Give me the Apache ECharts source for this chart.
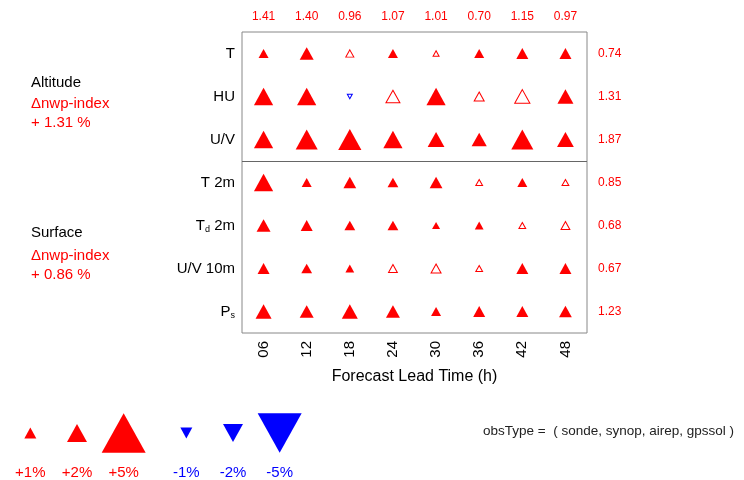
<!DOCTYPE html>
<html>
<head>
<meta charset="utf-8">
<script src="https://cdn.jsdelivr.net/npm/echarts@6/dist/echarts.min.js"></script>
<style>html,body{margin:0;padding:0;background:#fff}#c{width:744px;height:480px}</style>
</head>
<body>
<div id="c"></div>
<script>
// ---- data ----
const hours = ['06', '12', '18', '24', '30', '36', '42', '48'];
const params = ['T', 'HU', 'U/V', 'T 2m', 'Td 2m', 'U/V 10m', 'Ps'];
const altitudeParamCount = 3; // T, HU, U/V are altitude parameters; the rest are surface
const columnIndex = ['1.41', '1.40', '0.96', '1.07', '1.01', '0.70', '1.15', '0.97'];
const rowIndex = ['0.74', '1.31', '1.87', '0.85', '0.68', '0.67', '1.23'];
// relative change (%) per parameter (row) and lead time (column)
const changeT    = [0.75, 1.25, 0.50, 0.75, 0.25, 0.75, 1.00, 1.00];
const changeHU   = [1.90, 1.90, -0.12, 1.25, 1.90, 0.75, 1.40, 1.50];
const changeUV   = [1.90, 2.25, 2.40, 1.90, 1.60, 1.40, 2.25, 1.60];
const changeT2m  = [1.90, 0.75, 1.10, 0.85, 1.10, 0.35, 0.75, 0.35];
const changeTd2m = [1.25, 1.00, 0.85, 0.85, 0.50, 0.60, 0.35, 0.60];
const changeUV10 = [1.00, 0.85, 0.60, 0.60, 0.75, 0.35, 1.00, 1.00];
const changePs   = [1.50, 1.25, 1.50, 1.25, 0.75, 1.00, 1.00, 1.10];
// 1 = significant (filled), 0 = not significant (open)
const sigT    = [1, 1, 0, 1, 0, 1, 1, 1];
const sigHU   = [1, 1, 0, 0, 1, 0, 0, 1];
const sigUV   = [1, 1, 1, 1, 1, 1, 1, 1];
const sigT2m  = [1, 1, 1, 1, 1, 0, 1, 0];
const sigTd2m = [1, 1, 1, 1, 1, 1, 0, 0];
const sigUV10 = [1, 1, 1, 0, 0, 0, 1, 1];
const sigPs   = [1, 1, 1, 1, 1, 1, 1, 1];
const legendPos = [1, 2, 5];
const legendNeg = [-1, -2, -5];
const altitudeIndex = '+ 1.31 %';
const surfaceIndex = '+ 0.86 %';
const obsTypes = ['sonde', 'synop', 'airep', 'gpssol'];

// ---- build ----
const changes = [changeT, changeHU, changeUV, changeT2m, changeTd2m, changeUV10, changePs];
const sigs = [sigT, sigHU, sigUV, sigT2m, sigTd2m, sigUV10, sigPs];
const RED = '#ff0000', BLUE = '#0000ff';
const FONT = '"Liberation Sans", Arial, Helvetica, sans-serif';
function symSize(v) { const w = 4 + 8 * Math.abs(v); return [w, w * 0.9]; }
function item(x, y, v, filled) {
  const col = v >= 0 ? RED : BLUE;
  return {
    value: [x, y, v],
    symbolRotate: v < 0 ? 180 : 0,
    itemStyle: filled ? { color: col, borderWidth: 0, opacity: 1 }
                      : { color: '#fff', borderColor: col, borderWidth: 1, opacity: 1 }
  };
}
const mainData = [];
changes.forEach((row, j) => row.forEach((v, i) => mainData.push(item(i, j, v, sigs[j][i] === 1))));
const labelMap = {
  'Td 2m': '{n|T}{s|d}{n| 2m}',
  'Ps': '{n|P}{s|s}'
};
const fmtPct = v => (v > 0 ? '+' : '') + v + '%';

const option = {
  animation: false,
  textStyle: { fontFamily: FONT },
  grid: [
    { left: 242, top: 32, width: 345, height: 301, show: true, borderColor: '#888', borderWidth: 1 },
    { left: 7, top: 414, width: 140, height: 40 },
    { left: 163, top: 414, width: 140, height: 40 }
  ],
  xAxis: [
    { gridIndex: 0, type: 'category', data: hours, position: 'bottom',
      axisLine: { show: false }, axisTick: { show: false }, splitLine: { show: false },
      axisLabel: { rotate: 90, margin: 8, fontSize: 15, color: '#000', fontFamily: FONT },
      name: 'Forecast Lead Time (h)', nameLocation: 'middle', nameGap: 36,
      nameTextStyle: { fontSize: 16, color: '#000', fontFamily: FONT } },
    { gridIndex: 0, type: 'category', data: columnIndex, position: 'top',
      axisLine: { show: false }, axisTick: { show: false },
      axisLabel: { margin: 9, fontSize: 12, color: RED, fontFamily: FONT } },
    { gridIndex: 1, type: 'category', data: legendPos.map(fmtPct),
      axisLine: { show: false }, axisTick: { show: false },
      axisLabel: { margin: 13, fontSize: 15, color: RED, fontFamily: FONT } },
    { gridIndex: 2, type: 'category', data: legendNeg.map(fmtPct),
      axisLine: { show: false }, axisTick: { show: false },
      axisLabel: { margin: 13, fontSize: 15, color: BLUE, fontFamily: FONT } }
  ],
  yAxis: [
    { gridIndex: 0, type: 'category', data: params, inverse: true,
      axisLine: { show: false }, axisTick: { show: false }, splitLine: { show: false },
      axisLabel: { margin: 7, fontSize: 15, color: '#000', fontFamily: FONT,
        formatter: v => labelMap[v] || v,
        rich: { n: { fontSize: 15, color: '#000', fontFamily: FONT },
                s: { fontSize: 9, color: '#000', fontFamily: FONT, verticalAlign: 'bottom', padding: [8, 0, 0, 0] } } } },
    { gridIndex: 0, type: 'category', data: rowIndex, inverse: true, position: 'right',
      axisLine: { show: false }, axisTick: { show: false },
      axisLabel: { margin: 11, fontSize: 12, color: RED, fontFamily: FONT } },
    { gridIndex: 1, type: 'category', data: [''], show: false },
    { gridIndex: 2, type: 'category', data: [''], show: false },
    // hidden continuous row scale for the group separator
    { gridIndex: 0, type: 'value', min: 0, max: params.length, inverse: true, show: false,
      splitLine: { show: false } }
  ],
  series: [
    { type: 'scatter', xAxisIndex: 0, yAxisIndex: 0, data: mainData,
      symbol: 'triangle', symbolSize: v => symSize(v[2]) },
    { type: 'scatter', xAxisIndex: 0, yAxisIndex: 4, data: [], silent: true,
      markLine: { silent: true, symbol: 'none', label: { show: false },
        lineStyle: { color: '#666', width: 1, type: 'solid' },
        data: [{ yAxis: altitudeParamCount }] } },
    { type: 'scatter', xAxisIndex: 2, yAxisIndex: 2,
      data: legendPos.map((v, i) => item(i, 0, v, true)),
      symbol: 'triangle', symbolSize: v => symSize(v[2]) },
    { type: 'scatter', xAxisIndex: 3, yAxisIndex: 3,
      data: legendNeg.map((v, i) => item(i, 0, v, true)),
      symbol: 'triangle', symbolSize: v => symSize(v[2]) }
  ],
  graphic: [
    { type: 'text', left: 31, top: 75, style: { text: 'Altitude', fill: '#000', font: '15px ' + FONT } },
    { type: 'text', left: 31, top: 96, style: { text: 'Δnwp-index', fill: RED, font: '15px ' + FONT } },
    { type: 'text', left: 31, top: 115, style: { text: altitudeIndex, fill: RED, font: '15px ' + FONT } },
    { type: 'text', left: 31, top: 225, style: { text: 'Surface', fill: '#000', font: '15px ' + FONT } },
    { type: 'text', left: 31, top: 248, style: { text: 'Δnwp-index', fill: RED, font: '15px ' + FONT } },
    { type: 'text', left: 31, top: 267, style: { text: surfaceIndex, fill: RED, font: '15px ' + FONT } },
    { type: 'text', left: 483, top: 424, style: { text: 'obsType =  ( ' + obsTypes.join(', ') + ' )', fill: '#222', font: '13.5px ' + FONT } }
  ]
};
const chart = echarts.init(document.getElementById('c'), null, { renderer: 'canvas' });
chart.setOption(option);
</script>
</body>
</html>
